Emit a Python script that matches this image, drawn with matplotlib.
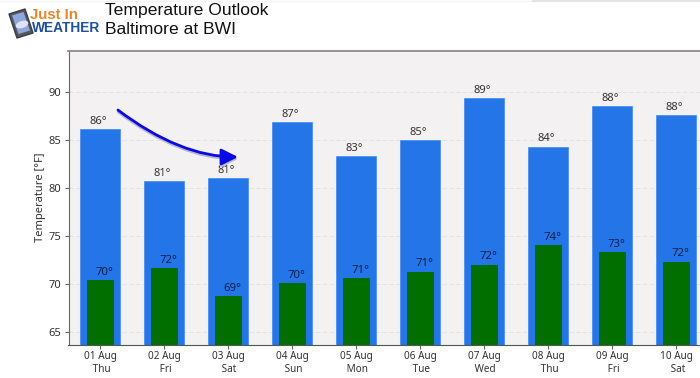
#!/usr/bin/env python3
# temperature outlook bars, highs behind lows
import numpy as np
import matplotlib
matplotlib.use('Agg')
import matplotlib.pyplot as plt
from matplotlib.patches import Ellipse, Polygon

plt.rcParams['font.family'] = ['Noto Sans', 'DejaVu Sans']

dates = ['01 Aug', '02 Aug', '03 Aug', '04 Aug', '05 Aug',
         '06 Aug', '07 Aug', '08 Aug', '09 Aug', '10 Aug']
days = ['Thu', 'Fri', 'Sat', 'Sun', 'Mon', 'Tue', 'Wed', 'Thu', 'Fri', 'Sat']
highs = [86.1, 80.67, 80.98, 86.8, 83.27, 84.97, 89.3, 84.27, 88.48, 87.54]
lows = [70.35, 71.63, 68.7, 70.03, 70.55, 71.25, 71.98, 74.0, 73.3, 72.3]
high_labels = [86, 81, 81, 87, 83, 85, 89, 84, 88, 88]
low_labels = [70, 72, 69, 70, 71, 71, 72, 74, 73, 72]
yticks = [65, 70, 75, 80, 85, 90]

W, H = 700, 378
fig = plt.figure(figsize=(7, 3.78), dpi=100)
ax = fig.add_axes([68.5/W, 1-344.5/H, (W-68.5)/W, (344.5-51)/H])
ax.set_facecolor('#f3f1f2')

x = np.arange(len(dates))
ax.bar(x, highs, width=0.625, color='#2475e8', edgecolor='#3f8af0', linewidth=0.5, zorder=2)
ax.bar(x, lows, width=0.417, color='#006f00', zorder=3)

for i in x:
    ax.text(i-0.03, highs[i]+0.25, f'{high_labels[i]}°', ha='center', va='bottom',
            fontsize=8, color='#333333', zorder=4)
    ax.text(i+0.07, lows[i]+0.25, f'{low_labels[i]}°', ha='center', va='bottom',
            fontsize=8.2, color='#10204a', zorder=4)

ax.set_xlim(-0.495, 9.372)
ax.set_ylim(63.67, 94.24)
ax.set_yticks(yticks)
ax.set_xticks(x)
ax.set_xticklabels([f'{d}\n {w}' for d, w in zip(dates, days)], fontsize=7.2,
                   color='#333333', linespacing=1.15)
ax.tick_params(axis='y', labelsize=8, length=3, width=0.8, color='#666666',
               labelcolor='#333333', pad=2)
ax.tick_params(axis='x', length=3, width=0.8, color='#666666', pad=2)
ax.set_ylabel('Temperature [°F]', fontsize=8, color='#333333', labelpad=2)
ax.grid(axis='y', color='#e0dedf', linestyle=(0, (5, 3)), linewidth=0.6, zorder=1)
ax.set_axisbelow(True)

ax.spines['top'].set_linewidth(1.3)
ax.spines['top'].set_color('#8a8a8a')
ax.spines['left'].set_color('#666666')
ax.spines['bottom'].set_color('#555555')
ax.spines['right'].set_visible(False)

# hand drawn blue arrow on top of the chart, soft shadow first
for col, off, lw in [('#b5b5c8', 0.2, 1.8), ('#0a0ae6', 0, 2.0)]:
    ax.annotate('', xy=(2.153, 83.2-off), xytext=(0.278, 88.09-off),
                arrowprops=dict(arrowstyle='-|>,head_length=1.0,head_width=0.5', color=col,
                                lw=lw, shrinkA=0, shrinkB=0, mutation_scale=10,
                                connectionstyle='angle3,angleA=-37,angleB=0'), zorder=5)

# title and logo, placed in pixels
px = fig.add_axes([0, 0, 1, 1], facecolor='none')
px.set_xlim(0, W)
px.set_ylim(H, 0)
px.axis('off')
px.plot([0, 533], [0.5, 0.5], color='#f4f4f4', lw=1)
px.plot([533, 700], [0.5, 0.5], color='#e4e4e4', lw=1.5)

sans = ['Liberation Sans', 'DejaVu Sans']
px.text(105, 10, 'Temperature Outlook', fontsize=12.6, family=sans, color='#111111', va='center')
px.text(105, 30, 'Baltimore at BWI', fontsize=12.6, family=sans, color='#111111', va='center')

phone = Polygon([[9, 14], [25, 9], [33, 33], [17, 38]], closed=True,
                facecolor='#55585f', edgecolor='#3a3d43', linewidth=1.0, joinstyle='round')
screen = Polygon([[12, 15.5], [23.5, 12], [30, 30.5], [18.5, 34]], closed=True,
                 facecolor='#8fa6dc', edgecolor='none')
cloud = Ellipse((22, 24.5), 13, 7, angle=-18, facecolor='#dde4f5', edgecolor='none')
px.add_patch(phone)
px.add_patch(screen)
px.add_patch(cloud)
px.text(29.5, 15, 'Just In', fontsize=10.8, family=sans, color='#e8862c', va='center', weight='bold')
px.text(32, 28, 'WEATHER', fontsize=9.9, family=sans, color='#1f4f9e', va='center', weight='bold')

plt.savefig('out.png', dpi=100)
